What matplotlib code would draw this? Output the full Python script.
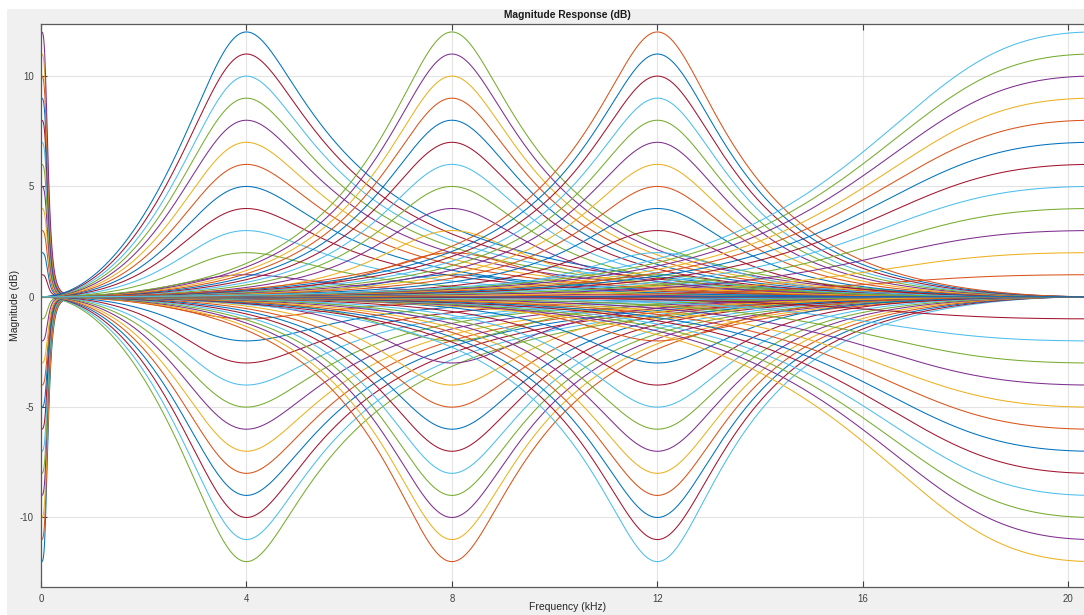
import numpy as np
import matplotlib
matplotlib.use("Agg")
import matplotlib.pyplot as plt
from matplotlib.patches import Rectangle

# ---------------- data ----------------
fs_khz = 41.0                      # sample rate (Nyquist 20.5 kHz)
gains_db = [-12, -11, -10, -9, -8, -7, -6, -5, -4, -3, -2, -1, 0,
            1, 2, 3, 4, 5, 6, 7, 8, 9, 10, 11, 12]
band_types = ["lowshelf", "peak", "peak", "peak", "highshelf"]
band_freqs_khz = [0.14, 4.0, 8.0, 12.0, 15.7]
band_widths_khz = [None, 3.6, 3.6, 3.6, None]
band_shelf_q = [0.707, None, None, None, 0.6]
x_ticks = [0, 4, 8, 12, 16, 20]
y_ticks = [-10, -5, 0, 5, 10]
matlab_colors = ["#0072BD", "#D95319", "#EDB120", "#7E2F8E",
                 "#77AC30", "#4DBEEE", "#A2142F"]


def peak_coeffs(g, f0, bw):
    G = 10 ** (g / 20.0)
    w0 = 2 * np.pi * f0 / fs_khz
    T = np.tan(np.pi * bw / fs_khz)
    beta = T / np.sqrt(G)
    c = np.cos(w0)
    b = np.array([1 + G * beta, -2 * c, 1 - G * beta]) / (1 + beta)
    a = np.array([1.0, -2 * c / (1 + beta), (1 - beta) / (1 + beta)])
    return b, a


def shelf_coeffs(g, f0, q, kind):
    A = 10 ** (g / 40.0)
    w0 = 2 * np.pi * f0 / fs_khz
    c, s = np.cos(w0), np.sin(w0)
    al = s / (2 * q)
    sa = 2 * np.sqrt(A) * al
    if kind == "lowshelf":
        b = [A * ((A + 1) - (A - 1) * c + sa), 2 * A * ((A - 1) - (A + 1) * c),
             A * ((A + 1) - (A - 1) * c - sa)]
        a = [(A + 1) + (A - 1) * c + sa, -2 * ((A - 1) + (A + 1) * c),
             (A + 1) + (A - 1) * c - sa]
    else:
        b = [A * ((A + 1) + (A - 1) * c + sa), -2 * A * ((A - 1) + (A + 1) * c),
             A * ((A + 1) + (A - 1) * c - sa)]
        a = [(A + 1) - (A - 1) * c + sa, 2 * ((A - 1) - (A + 1) * c),
             (A + 1) - (A - 1) * c - sa]
    b = np.array(b); a = np.array(a)
    return b / a[0], a / a[0]


def mag_db(b, a, f):
    z = np.exp(-1j * 2 * np.pi * f / fs_khz)
    num = b[0] + b[1] * z + b[2] * z ** 2
    den = a[0] + a[1] * z + a[2] * z ** 2
    return 20 * np.log10(np.abs(num / den))


f = np.linspace(0, fs_khz / 2, 4096)

W, H = 1084, 615
fig = plt.figure(figsize=(W / 100, H / 100), dpi=100, facecolor="#f0f0f0")
fig.patches.append(Rectangle((0, 1 - 9 / H), 1, 9 / H, transform=fig.transFigure,
                             facecolor="white", edgecolor="none", zorder=0))
fig.patches.append(Rectangle((0, 0), 7 / W, 1, transform=fig.transFigure,
                             facecolor="white", edgecolor="none", zorder=0))

ax_l, ax_r, ax_t, ax_b = 41, 1094, 24, 587
ax = fig.add_axes([ax_l / W, (H - ax_b) / H, (ax_r - ax_l) / W, (ax_b - ax_t) / H])
ax.set_facecolor("white")

n = 0
for kind, f0, bw, q in zip(band_types, band_freqs_khz, band_widths_khz, band_shelf_q):
    for g in gains_db:
        if kind == "peak":
            b, a = peak_coeffs(g, f0, bw)
        else:
            b, a = shelf_coeffs(g, f0, q, kind)
        ax.plot(f, mag_db(b, a, f), color=matlab_colors[n % 7], lw=0.75)
        n += 1

ax.set_xlim(0, fs_khz / 2)
ax.set_ylim(-13.15, 12.36)
ax.set_xticks(x_ticks)
ax.set_yticks(y_ticks)
ax.set_xticklabels([str(t) for t in x_ticks])
ax.set_yticklabels([str(t) for t in y_ticks])
ax.grid(True, color="#e3e3e3", lw=0.8)
ax.set_axisbelow(True)
ax.tick_params(direction="in", length=4, width=0.8, color="#404040",
               labelsize=6.9, labelcolor="#404040", top=True, right=True,
               pad=5)
for sp in ax.spines.values():
    sp.set_color("#5a5a5a")
    sp.set_linewidth(0.9)

fam = ["Liberation Sans", "DejaVu Sans"]
for lab in ax.get_xticklabels() + ax.get_yticklabels():
    lab.set_family(fam)

cx = (ax_l + ax_r) / 2 / W
fig.text(cx, 1 - 15 / H, "Magnitude Response (dB)", ha="center", va="center",
         fontsize=7.4, fontweight="bold", color="#1a1a1a", family=fam)
fig.text(cx, 1 - 607 / H, "Frequency (kHz)", ha="center", va="center",
         fontsize=7.5, color="#262626", family=fam)
fig.text(15 / W, 1 - 305.5 / H, "Magnitude (dB)", ha="center", va="center",
         rotation=90, fontsize=7.5, color="#262626", family=fam)

fig.savefig("out.png", dpi=100, facecolor=fig.get_facecolor())
